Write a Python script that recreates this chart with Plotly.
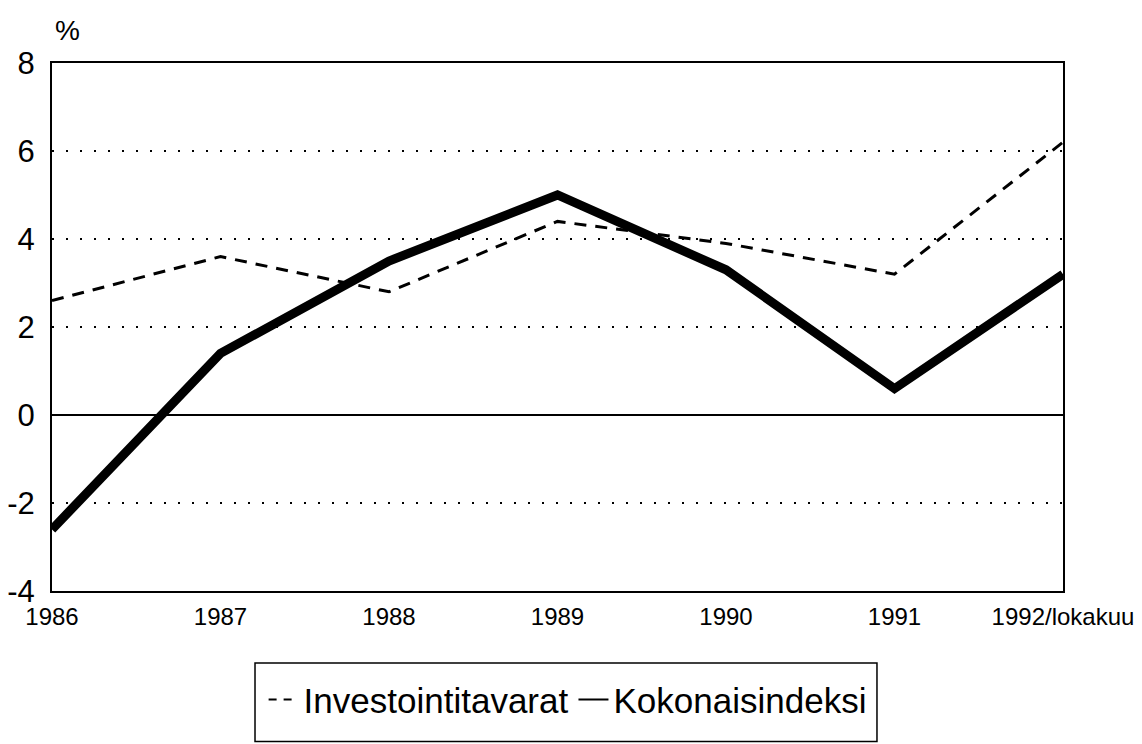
import plotly.graph_objects as go

years = [1986, 1987, 1988, 1989, 1990, 1991, 1992]
tick_labels = ["1986", "1987", "1988", "1989", "1990", "1991", "1992/lokakuu"]
y_ticks = [-4, -2, 0, 2, 4, 6, 8]
y_tick_labels = ["-4", "-2", "0", "2", "4", "6", "8"]
investointitavarat = [2.6, 3.6, 2.8, 4.4, 3.9, 3.2, 6.2]
kokonaisindeksi = [-2.6, 1.4, 3.5, 5.0, 3.3, 0.6, 3.2]

FONT = "Liberation Sans, Arial, sans-serif"

fig = go.Figure()

# varsinaiset viivat (selite piirretään erikseen ohuilla viivoilla)
fig.add_trace(go.Scatter(
    x=years, y=investointitavarat, mode="lines", showlegend=False,
    line=dict(color="black", width=3, dash="12px,9px"),
))
fig.add_trace(go.Scatter(
    x=years, y=kokonaisindeksi, mode="lines", showlegend=False,
    line=dict(color="black", width=9),
))
fig.add_trace(go.Scatter(
    x=[None], y=[None], mode="lines", name="Investointitavarat",
    line=dict(color="black", width=2, dash="8px,7px"),
))
fig.add_trace(go.Scatter(
    x=[None], y=[None], mode="lines", name="Kokonaisindeksi",
    line=dict(color="black", width=2),
))

# selitteen kehys
fig.add_shape(type="rect", xref="paper", yref="paper",
              x0=0.2008, x1=0.816, y0=-0.285, y1=-0.1364,
              line=dict(color="black", width=1.5), fillcolor="white", layer="below")

fig.add_annotation(text="%", xref="paper", yref="paper", x=0.015, y=1.0625,
                   xanchor="center", yanchor="middle",
                   showarrow=False, font=dict(family=FONT, size=28, color="black"))

fig.update_layout(
    width=1134, height=736,
    margin=dict(l=44, r=79, t=55, b=153, autoexpand=False),
    plot_bgcolor="white", paper_bgcolor="white",
    font=dict(family=FONT, color="black"),
    legend=dict(
        orientation="h", x=0.51, xanchor="center", y=-0.206, yanchor="middle",
        font=dict(family=FONT, size=35, color="black"),
        bgcolor="rgba(0,0,0,0)", borderwidth=0, itemwidth=30,
    ),
    xaxis=dict(
        range=[1986, 1992], tickvals=years, ticktext=tick_labels,
        showgrid=False, zeroline=False, ticks="", automargin=False,
        showline=True, mirror=True, linecolor="black", linewidth=2,
        tickfont=dict(family=FONT, size=24, color="black"),
        ticklabelstandoff=3,
    ),
    yaxis=dict(
        range=[-4, 8], tickvals=y_ticks, ticktext=y_tick_labels,
        showgrid=True, gridcolor="black", gridwidth=2, griddash="2px,12px",
        zeroline=True, zerolinecolor="black", zerolinewidth=2, ticks="",
        showline=True, mirror=True, linecolor="black", linewidth=2,
        automargin=False,
        tickfont=dict(family=FONT, size=31, color="black"),
        ticklabelstandoff=9,
    ),
)

fig.write_html("out.html")
